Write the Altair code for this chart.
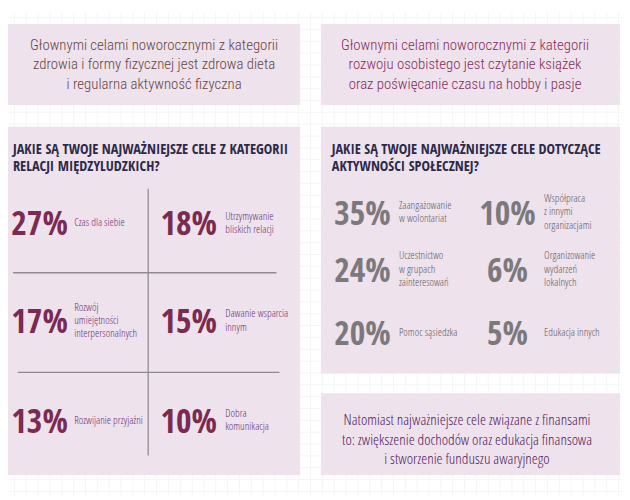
import altair as alt
import pandas as pd

# ---------------- data ----------------
intro_left = ["Głownymi celami noworocznymi z kategorii",
              "zdrowia i formy fizycznej jest zdrowa dieta",
              "i regularna aktywność fizyczna"]
intro_right = ["Głownymi celami noworocznymi z kategorii",
               "rozwoju osobistego jest czytanie książek",
               "oraz poświęcanie czasu na hobby i pasje"]
outro = ["Natomiast najważniejsze cele związane z finansami",
         "to: zwiększenie dochodów oraz edukacja finansowa",
         "i stworzenie funduszu awaryjnego"]

rel_title = ["JAKIE SĄ TWOJE NAJWAŻNIEJSZE CELE Z KATEGORII", "RELACJI MIĘDZYLUDZKICH?"]
rel_values = [27, 18, 17, 15, 13, 10]
rel_labels = ["Czas dla siebie",
              "Utrzymywanie\nbliskich relacji",
              "Rozwój\numiejętności\ninterpersonalnych",
              "Dawanie wsparcia\ninnym",
              "Rozwijanie przyjaźni",
              "Dobra\nkomunikacja"]

soc_title = ["JAKIE SĄ TWOJE NAJWAŻNIEJSZE CELE DOTYCZĄCE", "AKTYWNOŚCI SPOŁECZNEJ?"]
soc_values = [35, 10, 24, 6, 20, 5]
soc_labels = ["Zaangażowanie\nw wolontariat",
              "Współpraca\nz innymi\norganizacjami",
              "Uczestnictwo\nw grupach\nzainteresowań",
              "Organizowanie\nwydarzeń\nlokalnych",
              "Pomoc sąsiedzka",
              "Edukacja innych"]

# ---------------- layout ----------------
W, H = 622, 492
OX, OY = 8, 8
XS = alt.Scale(domain=[OX, OX + W])
YS = alt.Scale(domain=[OY, OY + H], reverse=True)
GRID = 12
AX_X = alt.Axis(values=list(range(2, 632, GRID)), grid=True, gridColor="#f3f6f3", gridWidth=1,
                labels=False, ticks=False, domain=False, title=None)
AX_Y = alt.Axis(values=list(range(2, 502, GRID)), grid=True, gridColor="#f3f6f3", gridWidth=1,
                labels=False, ticks=False, domain=False, title=None)

BOLD = "Open Sans Condensed"
LIGHT = "Open Sans Condensed Light"
ROBO = "Roboto Condensed"
BOX = "#eee2ec"


def X(f):
    return alt.X(f, type="quantitative", scale=XS, axis=AX_X)


def Y(f):
    return alt.Y(f, type="quantitative", scale=YS, axis=AX_Y)


boxes = pd.DataFrame({
    "x": [3, 325, 3, 325, 325],
    "x2": [304, 628, 304, 628, 628],
    "y": [21, 21, 125, 125, 395],
    "y2": [103, 103, 478, 375, 478],
})
box_layer = alt.Chart(boxes).mark_rect(color=BOX).encode(
    x=X("x"), x2="x2", y=Y("y"), y2="y2")

# dividers in the left panel
rules = pd.DataFrame({
    "x": [150, 13, 18], "x2": [150, 280, 283],
    "y": [188, 273, 374], "y2": [458, 273, 374],
})
rule_layer = alt.Chart(rules).mark_rule(color="#8f8b90", strokeWidth=1.3).encode(
    x=X("x"), x2="x2", y=Y("y"), y2="y2")


def block(lines, cx, cy, color, size, font, weight, lh=19.5):
    first = cy - (len(lines) - 1) * lh / 2
    df = pd.DataFrame({"t": ["\n".join(lines)], "x": [cx], "y": [first]})
    return alt.Chart(df).mark_text(font=font, fontSize=size, fontWeight=weight, color=color,
                                   align="center", baseline="middle", lineBreak="\n",
                                   lineHeight=lh).encode(x=X("x"), y=Y("y"), text="t:N")


intro_l = block(intro_left, 156, 62, "#664542", 15, ROBO, 300)
intro_r = block(intro_right, 471, 62, "#862a5a", 15, ROBO, 300)
outro_b = block(outro, 473, 442, "#52205e", 15.5, LIGHT, 300)


def header(lines, x0):
    df = pd.DataFrame({"t": ["\n".join(lines)], "x": [x0], "y": [153]})
    return alt.Chart(df).mark_text(font=BOLD, fontSize=14.5, fontWeight="bold", color="#2b2a49",
                                   align="left", baseline="alphabetic", lineBreak="\n",
                                   lineHeight=16.5).encode(x=X("x"), y=Y("y"), text="t:N")


hdr_l = header(rel_title, 13)
hdr_r = header(soc_title, 336)

NUM_SIZE = 34
LAB_LH = 13.5


def cells(values, labels, num_cx, lab_x, row_c):
    n = len(values)
    return pd.DataFrame({
        "num": [f"{v}%" for v in values],
        "lab": labels,
        "nx": [num_cx[i % 2] for i in range(n)],
        "lx": [lab_x[i % 2] for i in range(n)],
        "ly": [row_c[i // 2] - (labels[i].count("\n")) * LAB_LH / 2 for i in range(n)],
        "by": [row_c[i // 2] + 0.36 * NUM_SIZE for i in range(n)],
    })


rel_df = cells(rel_values, rel_labels, [40, 191], [75, 228], [223, 322, 423])
soc_df = cells(soc_values, soc_labels, [367, 514], [404, 551], [212, 270, 334])


def numbers(df, color):
    return alt.Chart(df).mark_text(font=BOLD, fontSize=NUM_SIZE, fontWeight="bold", color=color,
                                   align="center", baseline="alphabetic").encode(
        x=X("nx"), y=Y("by"), text="num:N")


def labels(df, color):
    return alt.Chart(df).mark_text(font=LIGHT, fontSize=11, fontWeight=300, color=color,
                                   align="left", baseline="middle", lineBreak="\n",
                                   lineHeight=LAB_LH).encode(x=X("lx"), y=Y("ly"), text="lab:N")


chart = alt.layer(
    box_layer, rule_layer, intro_l, intro_r, outro_b, hdr_l, hdr_r,
    numbers(rel_df, "#7b2a51"), labels(rel_df, "#6c2f76"),
    numbers(soc_df, "#7c797c"), labels(soc_df, "#5e5b60"),
).properties(
    width=W, height=H, padding=0, autosize=alt.AutoSizeParams(type="none"),
    background="white",
).configure_view(stroke=None)

chart.save("out.html", embed_options={"renderer": "svg", "actions": False})
